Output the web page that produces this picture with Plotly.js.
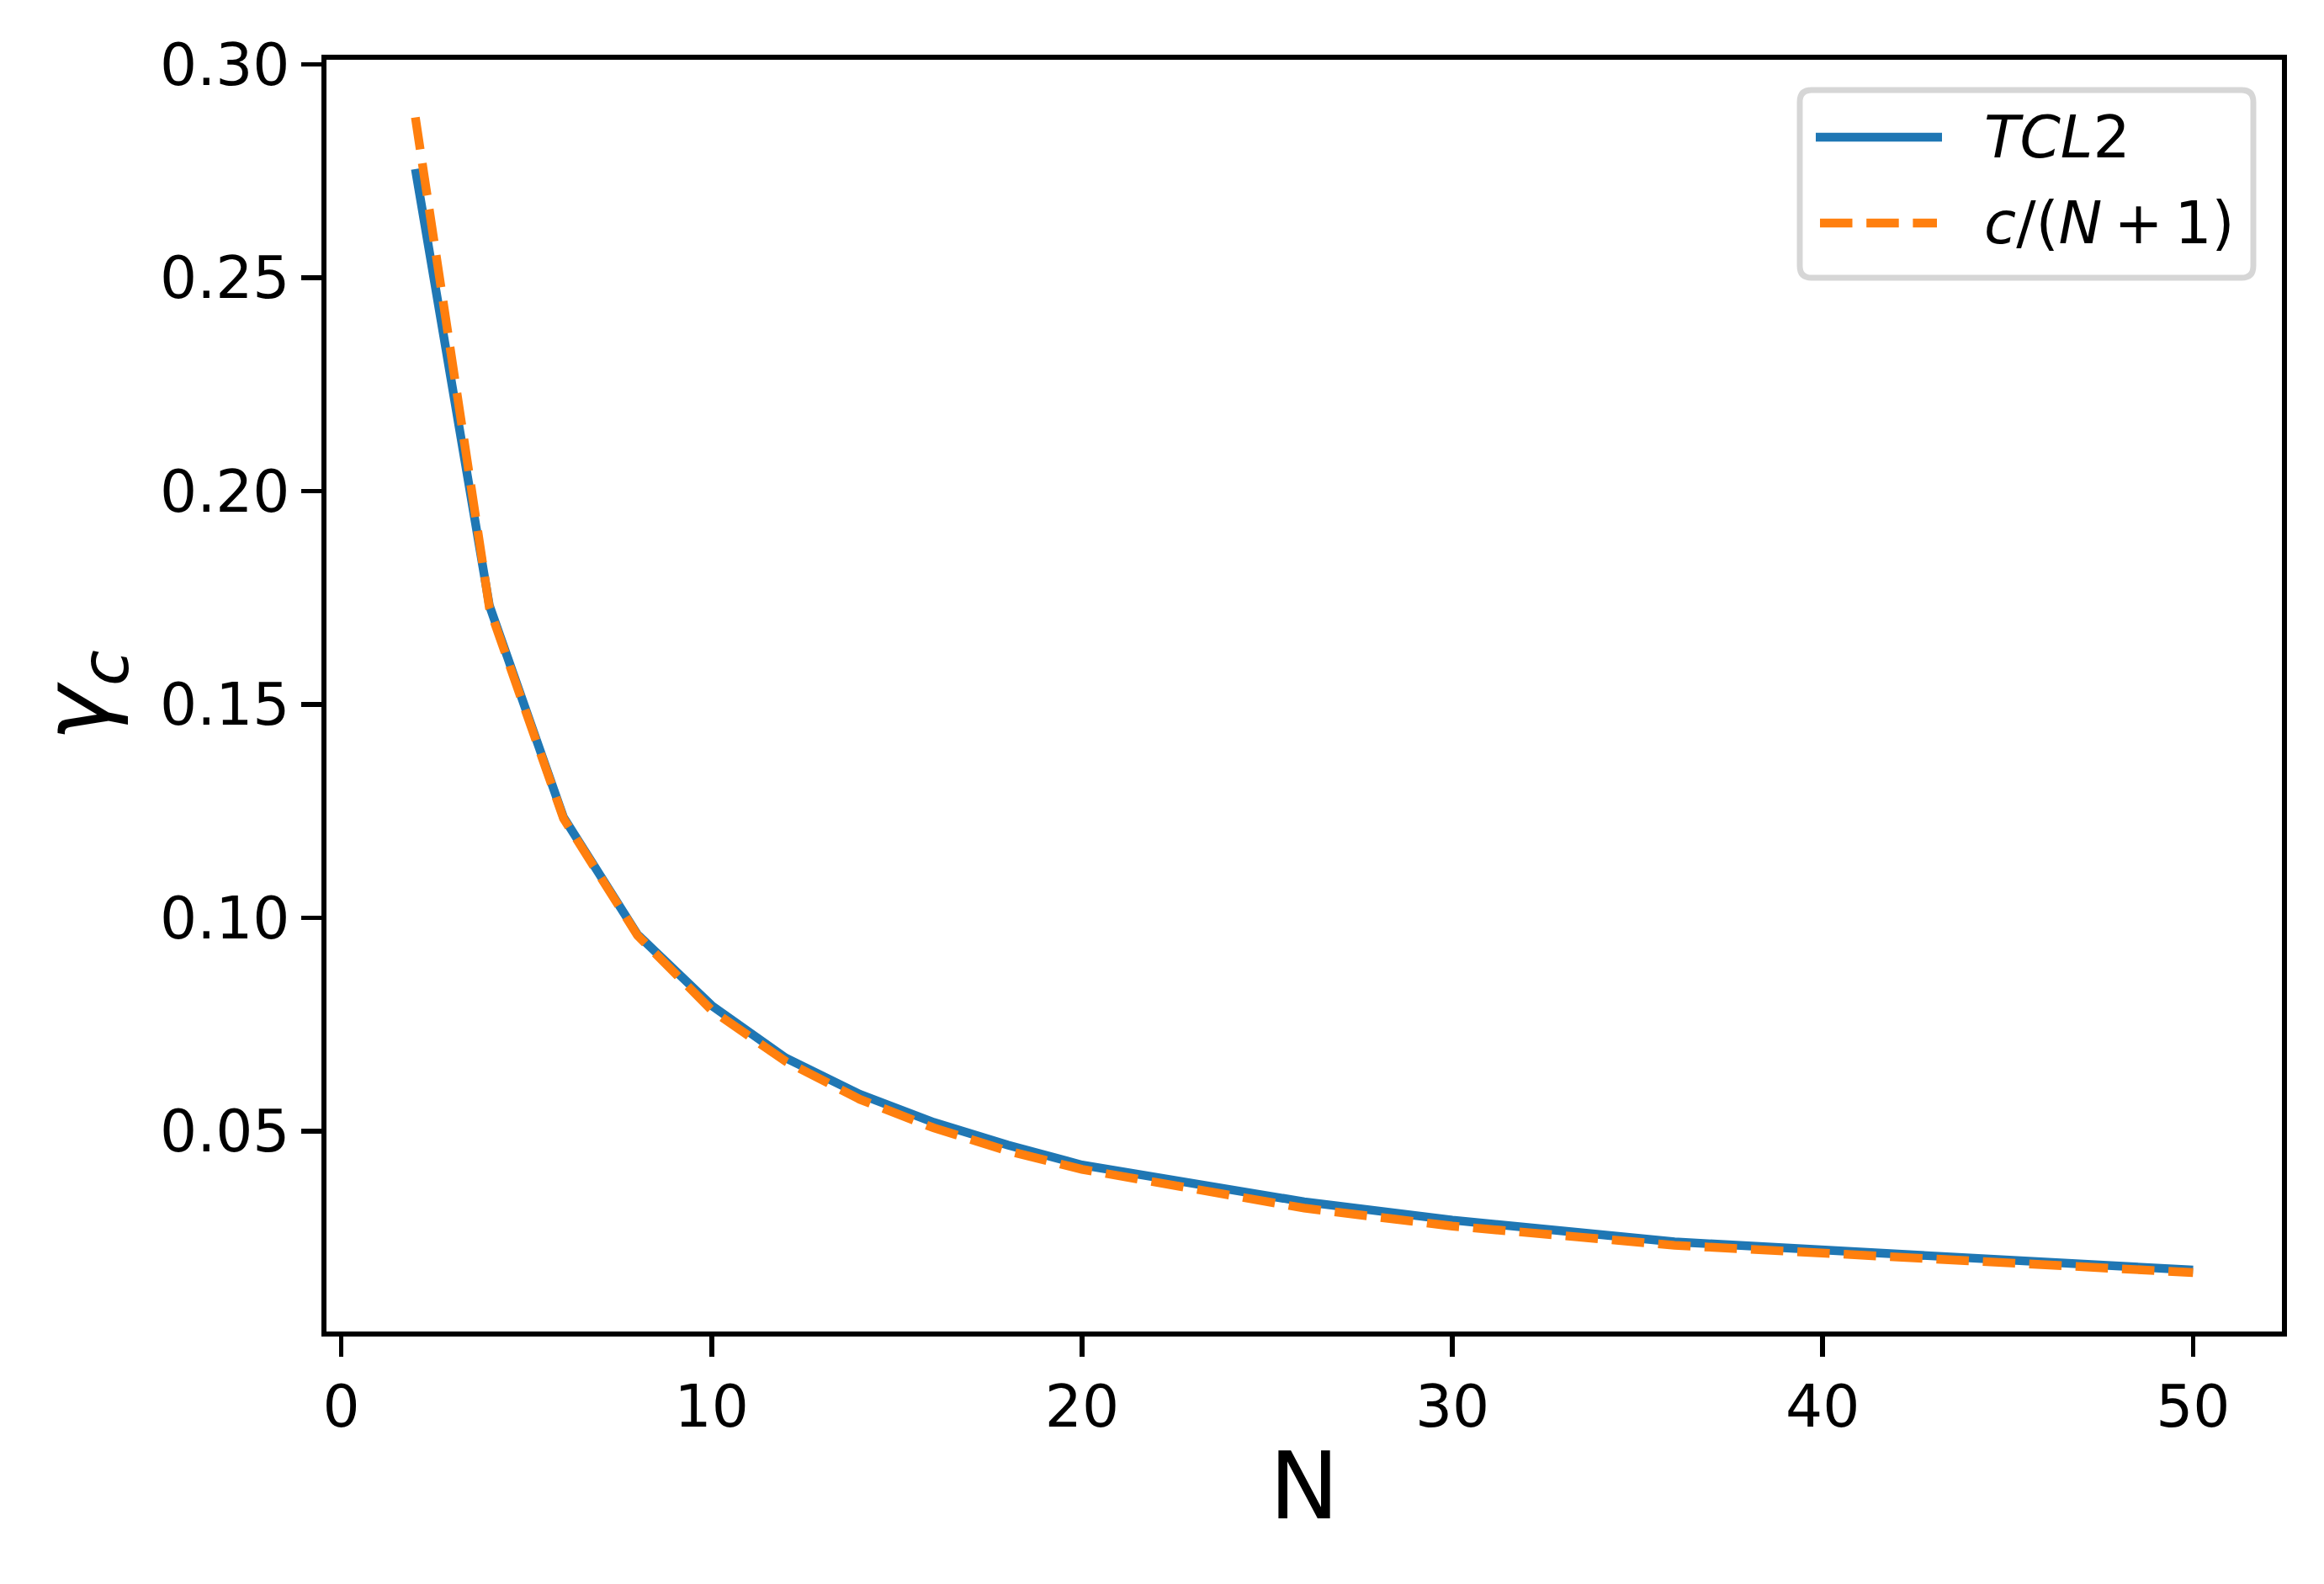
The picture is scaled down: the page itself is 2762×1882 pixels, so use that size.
<!DOCTYPE html>
<html><head><meta charset="utf-8">
<script src="https://cdn.plot.ly/plotly-3.0.1.min.js"></script>
<style>html,body{margin:0;padding:0;background:#fff;} #chart{width:2762px;height:1882px;}</style>
</head><body><div id="chart"></div>
<script>
// ---- data ----
const N_values = [2, 4, 6, 8, 10, 12, 14, 16, 18, 20, 26, 30, 36, 50];
const tcl2_gamma = [0.2755, 0.1732, 0.1236, 0.0961, 0.0795, 0.0672, 0.0587, 0.0521, 0.0468, 0.0421, 0.0335, 0.0292, 0.0241, 0.0175];
const fit_gamma = [0.2876, 0.1726, 0.1233, 0.0959, 0.0784, 0.0664, 0.0575, 0.0508, 0.0454, 0.0411, 0.0320, 0.0278, 0.0233, 0.0169];
const series_names = ["<i>TCL</i>2", "<i>c</i>/(<i>N</i>\u2009+\u20091)"];
const x_ticks = [0, 10, 20, 30, 40, 50];
const x_tick_labels = ["0", "10", "20", "30", "40", "50"];
const y_ticks = [0.05, 0.10, 0.15, 0.20, 0.25, 0.30];
const y_tick_labels = ["0.05", "0.10", "0.15", "0.20", "0.25", "0.30"];
const x_title = "N";
const y_title = "<i>γ</i><sub><i>c</i></sub>";

// ---- layout constants (pixels) ----
const W = 2762, H = 1882;
const L = 388, R = 2712, T = 71, B = 1582;
const FONT = "DejaVu Sans, sans-serif";
const BLUE = "#1f77b4", ORANGE = "#ff7f0e";
const LW = 10.4;
const px = x => (x - L) / (R - L);
const py = y => 1 - (y - T) / (B - T);

const traces = [
  {x: N_values, y: tcl2_gamma, name: "TCL2", type: "scatter", mode: "lines",
   line: {color: BLUE, width: LW}, showlegend: false},
  {x: N_values, y: fit_gamma, name: "c/(N+1)", type: "scatter", mode: "lines",
   line: {color: ORANGE, width: LW, dash: "38.5px,16.7px"}, showlegend: false}
];

// custom legend in matplotlib style
const lx0 = 2139, lx1 = 2678, ly0 = 107, ly1 = 330, rr = 14;
const rx = rr / (R - L), ry = rr / (B - T);
const a = px(lx0), b = px(lx1), c = py(ly0), d = py(ly1);
const boxPath = `M${a+rx},${c} L${b-rx},${c} Q${b},${c} ${b},${c-ry} L${b},${d+ry} Q${b},${d} ${b-rx},${d} L${a+rx},${d} Q${a},${d} ${a},${d+ry} L${a},${c-ry} Q${a},${c} ${a+rx},${c} Z`;

const shapes = [
  {type: "path", xref: "paper", yref: "paper", path: boxPath,
   line: {color: "#d6d6d6", width: 6.9}, fillcolor: "rgba(255,255,255,0.8)", layer: "above"},
  {type: "line", xref: "paper", yref: "paper", x0: px(2158), x1: px(2308), y0: py(163), y1: py(163),
   line: {color: BLUE, width: LW}, layer: "above"},
  {type: "line", xref: "paper", yref: "paper", x0: px(2163), x1: px(2302), y0: py(265), y1: py(265),
   line: {color: ORANGE, width: LW, dash: "38.5px,16.7px"}, layer: "above"}
];
const annotations = [
  {xref: "paper", yref: "paper", x: px(2356), y: py(163), xanchor: "left", yanchor: "middle",
   text: series_names[0], showarrow: false, font: {family: FONT, size: 69.4, color: "#000"}},
  {xref: "paper", yref: "paper", x: px(2356), y: py(265), xanchor: "left", yanchor: "middle",
   text: series_names[1], showarrow: false, font: {family: FONT, size: 69.4, color: "#000"}}
];

const axisCommon = {
  ticks: "outside", ticklen: 24, tickwidth: 5.6, tickcolor: "#000",
  showline: true, linewidth: 5.6, linecolor: "#000", mirror: true,
  showgrid: false, zeroline: false,
  tickfont: {family: FONT, size: 69.4, color: "#000"}
};

const layout = {
  width: W, height: H,
  margin: {l: L, r: W - R, t: T, b: H - B, pad: 0},
  paper_bgcolor: "#fff", plot_bgcolor: "#fff",
  font: {family: FONT, color: "#000"},
  showlegend: false,
  xaxis: Object.assign({}, axisCommon, {
    range: [-0.4, 52.4], tickvals: x_ticks, ticktext: x_tick_labels,
    title: {text: x_title, font: {family: FONT, size: 111, color: "#000"}, standoff: 18}
  }),
  yaxis: Object.assign({}, axisCommon, {
    range: [0.0031, 0.3011], tickvals: y_ticks, ticktext: y_tick_labels,
    title: {text: y_title, font: {family: FONT, size: 111, color: "#000"}, standoff: 25}
  }),
  shapes: shapes,
  annotations: annotations
};

Plotly.newPlot("chart", traces, layout, {staticPlot: true, displayModeBar: false});
</script>
</body></html>
